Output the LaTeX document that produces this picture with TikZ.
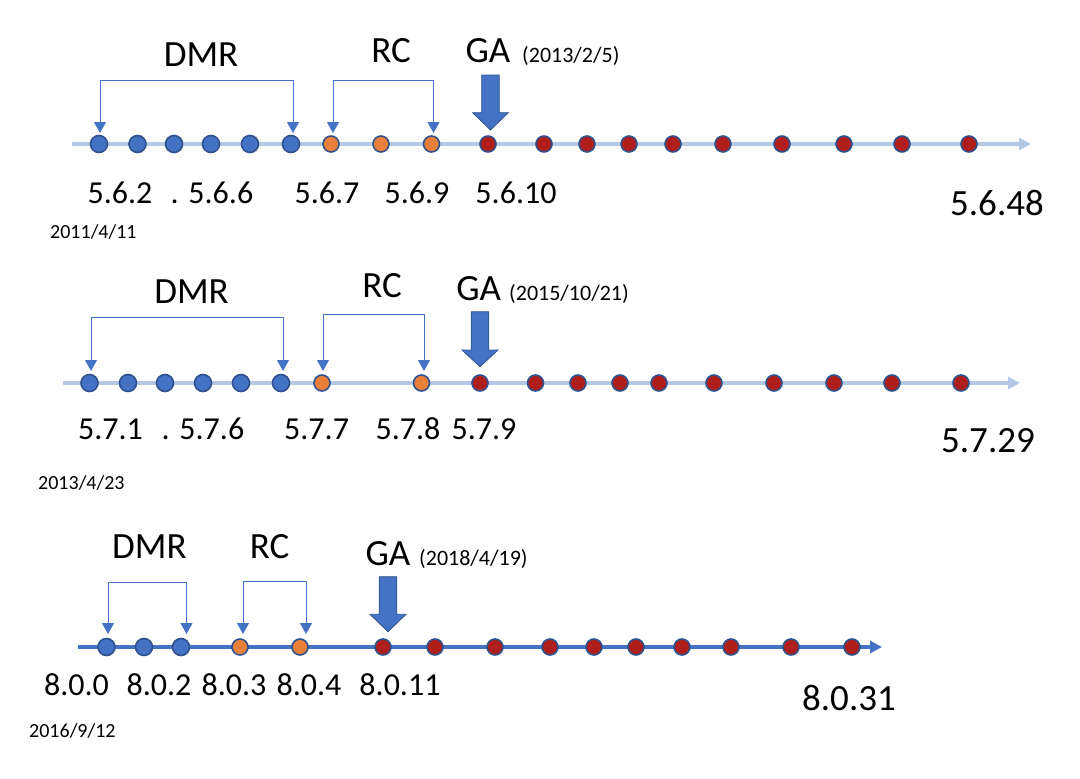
\documentclass[tikz,border=0pt]{standalone}
\usepackage{fontspec}
\setmainfont{Carlito}
\usetikzlibrary{arrows.meta}
\definecolor{axlight}{RGB}{180,199,231}
\definecolor{axdark}{RGB}{68,114,196}
\definecolor{dotblue}{RGB}{68,114,196}
\definecolor{dotedge}{RGB}{47,82,143}
\definecolor{dotorange}{RGB}{232,128,58}
\definecolor{dotred}{RGB}{176,30,28}
\begin{document}
\begin{tikzpicture}[x=1pt,y=-1pt,
 dotbase/.style={circle,inner sep=0pt,draw=dotedge,line width=1.6pt},
 bdot/.style={dotbase,fill=dotblue,minimum size=17pt},
 odot/.style={dotbase,fill=dotorange,minimum size=16pt},
 rdot/.style={dotbase,fill=dotred,minimum size=16pt},
 lightaxis/.style={draw=axlight,line width=4pt,-{Triangle[length=12pt,width=12pt]}},
 darkaxis/.style={draw=axdark,line width=3.5pt,-{Triangle[length=12pt,width=12pt]}},
 bracket/.style={draw=axdark,line width=0.9pt,{Triangle[length=11pt,width=12pt]}-{Triangle[length=11pt,width=12pt]}},
 phase/.style={font=\fontsize{37}{42}\selectfont,anchor=base,inner sep=0pt},
 gadate/.style={font=\fontsize{22}{26}\selectfont,anchor=base west,inner sep=0pt},
 ver/.style={font=\fontsize{32}{36}\selectfont,anchor=base,inner sep=0pt},
 verbig/.style={font=\fontsize{37}{42}\selectfont,anchor=base,inner sep=0pt},
 startdate/.style={font=\fontsize{20}{24}\selectfont,anchor=base west,inner sep=0pt},
 gaarrow/.style={fill=dotblue,draw=dotedge,line width=0.8pt}
]
\useasboundingbox (0,0) rectangle (1080,779);

% ---------------- Row 1 (5.6) ----------------
\coordinate (a1s) at (72,144);
\coordinate (a1e) at (1031,144);
\draw[lightaxis] (a1s) -- (a1e);
\foreach \x [count=\i] in {99,137.5,174,211,250,291}
  \node[bdot] (r1b\i) at (\x,144) {};
\foreach \x [count=\i] in {331,381,431.5}
  \node[odot] (r1o\i) at (\x,144) {};
\foreach \x [count=\i] in {488,544,587,629,673,723,782,844,902,969}
  \node[rdot] (r1r\i) at (\x,144) {};

\coordinate (r1dl) at (100,133);
\coordinate (r1dr) at (293,133);
\draw[bracket] (r1dl) -- (100,80) -- (293,80) -- (r1dr);
\coordinate (r1cl) at (333,133);
\coordinate (r1cr) at (433.5,133);
\draw[bracket] (r1cl) -- (333,80) -- (433.5,80) -- (r1cr);
\path[gaarrow] (481.7,75) -- (499.3,75) -- (499.3,112.7) -- (508.3,112.7) -- (490.5,130) -- (472.7,112.7) -- (481.7,112.7) -- cycle;

\node[phase] (r1dmr) at (201,66.7) {DMR};
\node[phase] (r1rc) at (391,62) {RC};
\node[phase] (r1ga) at (488,62) {GA};
\node[gadate] (r1gad) at (522,62) {(2013/2/5)};
\node[ver] (r1v1) at (120,203) {5.6.2};
\node[ver] (r1v2) at (212,203) {. 5.6.6};
\node[ver] (r1v3) at (327,203) {5.6.7};
\node[ver] (r1v4) at (417,203) {5.6.9};
\node[ver] (r1v5) at (516,203) {5.6.10};
\node[verbig] (r1v6) at (997,215) {5.6.48};
\node[startdate] (r1sd) at (50,238) {2011/4/11};

% ---------------- Row 2 (5.7) ----------------
\coordinate (a2s) at (63,383);
\coordinate (a2e) at (1020,383);
\draw[lightaxis] (a2s) -- (a2e);
\foreach \x [count=\i] in {89.5,128,165,203,241,281}
  \node[bdot] (r2b\i) at (\x,383) {};
\foreach \x [count=\i] in {322,421.5}
  \node[odot] (r2o\i) at (\x,383) {};
\foreach \x [count=\i] in {480,535.5,578,620,659,714,774,834,892,961}
  \node[rdot] (r2r\i) at (\x,383) {};

\coordinate (r2dl) at (91,371);
\coordinate (r2dr) at (283,371);
\draw[bracket] (r2dl) -- (91,317) -- (283,317) -- (r2dr);
\coordinate (r2cl) at (323,371);
\coordinate (r2cr) at (424,371);
\draw[bracket] (r2cl) -- (323,314) -- (424,314) -- (r2cr);
\path[gaarrow] (471.2,311.7) -- (488.8,311.7) -- (488.8,350) -- (498,350) -- (480,366.7) -- (462,350) -- (471.2,350) -- cycle;

\node[phase] (r2dmr) at (191.5,303) {DMR};
\node[phase] (r2rc) at (382,297.5) {RC};
\node[phase] (r2ga) at (478.7,300) {GA};
\node[gadate] (r2gad) at (509,300) {(2015/10/21)};
\node[ver] (r2v1) at (110.5,439) {5.7.1};
\node[ver] (r2v2) at (203,439) {. 5.7.6};
\node[ver] (r2v3) at (316.6,439) {5.7.7};
\node[ver] (r2v4) at (408,439) {5.7.8};
\node[ver] (r2v5) at (484,439) {5.7.9};
\node[verbig] (r2v6) at (988,452) {5.7.29};
\node[startdate] (r2sd) at (38,489) {2013/4/23};

% ---------------- Row 3 (8.0) ----------------
\coordinate (a3s) at (78,647);
\coordinate (a3e) at (882,647);
\draw[darkaxis] (a3s) -- (a3e);
\foreach \x [count=\i] in {106.5,144,181}
  \node[bdot] (r3b\i) at (\x,647) {};
\foreach \x [count=\i] in {240,300}
  \node[odot] (r3o\i) at (\x,647) {};
\foreach \x [count=\i] in {383,435,495,550,594,636,682,731,791,852}
  \node[rdot] (r3r\i) at (\x,647) {};

\coordinate (r3dl) at (108,634);
\coordinate (r3dr) at (186.5,634);
\draw[bracket] (r3dl) -- (108,582) -- (186.5,582) -- (r3dr);
\coordinate (r3cl) at (243,634);
\coordinate (r3cr) at (306,634);
\draw[bracket] (r3cl) -- (243,581) -- (306,581) -- (r3cr);
\path[gaarrow] (379.2,576.7) -- (396.8,576.7) -- (396.8,614.3) -- (406,614.3) -- (388,631.7) -- (370,614.3) -- (379.2,614.3) -- cycle;

\node[phase] (r3dmr) at (149.4,558) {DMR};
\node[phase] (r3rc) at (269.6,558) {RC};
\node[phase] (r3ga) at (388,565) {GA};
\node[gadate] (r3gad) at (419,565) {(2018/4/19)};
\node[ver] (r3v1) at (76.5,695) {8.0.0};
\node[ver] (r3v2) at (159,695) {8.0.2};
\node[ver] (r3v3) at (234,695) {8.0.3};
\node[ver] (r3v4) at (309,695) {8.0.4};
\node[ver] (r3v5) at (400,695) {8.0.11};
\node[verbig] (r3v6) at (849,710.7) {8.0.31};
\node[startdate] (r3sd) at (29,737) {2016/9/12};
\end{tikzpicture}
\end{document}
